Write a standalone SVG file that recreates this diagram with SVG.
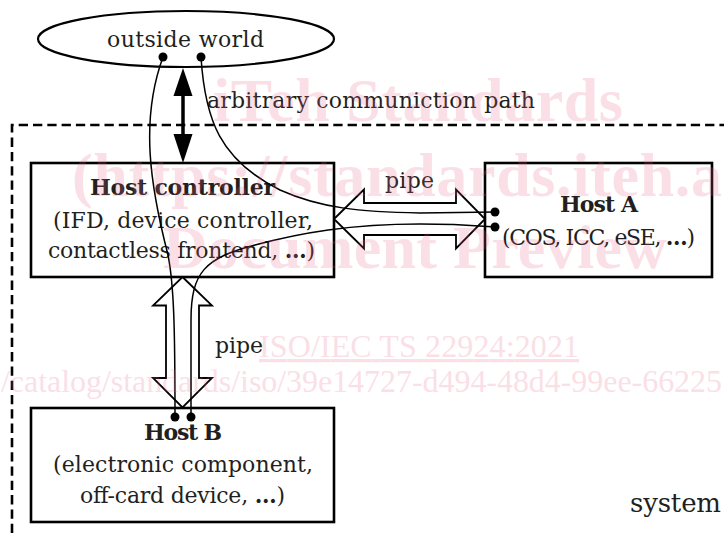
<svg xmlns="http://www.w3.org/2000/svg" width="724" height="533" viewBox="0 0 724 533">
  <style>
    .box { fill: #ffffff; stroke: #000000; stroke-width: 2.6; }
    .lbl { font-family: "DejaVu Serif", "Liberation Serif", serif; font-size: 22px; fill: #231f20; }
    .bold { font-weight: bold; }
    .pipe { fill: #ffffff; stroke: #000000; stroke-width: 1.8; stroke-linejoin: miter; }
    .wire { fill: none; stroke: #000000; stroke-width: 1.5; }
    .dot { fill: #000000; }
    .wm { font-family: "Liberation Serif", serif; fill: #eb6487; opacity: 0.2; }
    .wmb { font-weight: bold; font-size: 62px; }
    .wmr { font-size: 32px; }
  </style>

  <rect width="724" height="533" fill="#ffffff"/>

  <g id="system-boundary">
    <path d="M12,533 V125 H724" fill="none" stroke="#000000" stroke-width="2.6" stroke-dasharray="9.3,5"/>
    <text class="lbl" x="630" y="512" style="font-size:26px" textLength="91">system</text>
  </g>

  <g id="outside-world">
    <ellipse cx="186" cy="39" rx="148" ry="28" fill="#ffffff" stroke="#000000" stroke-width="2.2"/>
    <text class="lbl" x="185.5" y="47" text-anchor="middle" textLength="157">outside world</text>
  </g>

  <g id="host-controller">
    <rect class="box" x="31" y="163" width="303" height="114"/>
    <text class="lbl bold" x="182.5" y="195" text-anchor="middle" textLength="185">Host controller</text>
    <text class="lbl" x="183" y="228" text-anchor="middle" textLength="260">(IFD, device controller,</text>
    <text class="lbl" x="181.5" y="258" text-anchor="middle" textLength="267">contactless frontend, <tspan class="bold">…</tspan>)</text>
  </g>

  <g id="host-a">
    <rect class="box" x="485" y="163" width="227" height="114"/>
    <text class="lbl bold" x="599" y="212" text-anchor="middle" textLength="78">Host A</text>
    <text class="lbl" x="598.5" y="245" text-anchor="middle" textLength="193">(COS, ICC, eSE, <tspan class="bold">…</tspan>)</text>
  </g>

  <g id="host-b">
    <rect class="box" x="31" y="408" width="303" height="114"/>
    <text class="lbl bold" x="183" y="440" text-anchor="middle" textLength="78">Host B</text>
    <text class="lbl" x="183" y="472" text-anchor="middle" textLength="260">(electronic component,</text>
    <text class="lbl" x="182.5" y="503" text-anchor="middle" textLength="205">off-card device, <tspan class="bold">…</tspan>)</text>
  </g>

  <g id="connectors">
    <!-- arbitrary communication path -->
    <line x1="183" y1="94" x2="183" y2="136" stroke="#000000" stroke-width="3.5"/>
    <polygon points="183,68 173.5,96 192.5,96" fill="#000000"/>
    <polygon points="183,163 173.5,134 192.5,134" fill="#000000"/>
    <text class="lbl" x="207" y="108" textLength="328">arbitrary communiction path</text>

    <!-- pipe Host controller <-> Host A -->
    <polygon class="pipe" points="334,219 364,189.5 364,203 456,203 456,189.5 485,219 456,248.5 456,235 364,235 364,248.5"/>
    <text class="lbl" x="409.5" y="188" text-anchor="middle" textLength="49">pipe</text>

    <!-- pipe Host controller <-> Host B -->
    <polygon class="pipe" points="182.5,277 212,305.5 199,305.5 199,378 212,378 182.5,407.5 153,378 166,378 166,305.5 153,305.5"/>
    <text class="lbl" x="215" y="353" textLength="48">pipe</text>

    <!-- logical wires -->
    <path class="wire" d="M163,57 C140,120 150,185 168,255 C174,285 175,330 175,417"/>
    <path class="wire" d="M201,57 C205,120 220,160 280,190 C320,208 360,212 420,213 L495,212"/>
    <path class="wire" d="M191,417 L191,320 C191,272 205,258 255,245 C300,233 350,224 420,224 C460,224 480,226 495,227"/>
    <circle class="dot" cx="163" cy="57" r="4.5"/>
    <circle class="dot" cx="201" cy="57" r="4.5"/>
    <circle class="dot" cx="495" cy="212" r="4.5"/>
    <circle class="dot" cx="495" cy="227" r="4.5"/>
    <circle class="dot" cx="175" cy="417" r="4.5"/>
    <circle class="dot" cx="191" cy="417" r="4.5"/>
  </g>

  <g id="watermark">
    <text class="wm wmb" x="213" y="121" textLength="410">iTeh Standards</text>
    <text class="wm wmb" x="72" y="196" textLength="650">(https://standards.iteh.a</text>
    <text class="wm wmb" x="163" y="268" textLength="504">Document Preview</text>
    <text class="wm wmr" x="259" y="357" textLength="320" text-decoration="underline">ISO/IEC TS 22924:2021</text>
    <text class="wm wmr" x="1" y="392" textLength="721">/catalog/standards/iso/39e14727-d494-48d4-99ee-66225</text>
  </g>
</svg>
